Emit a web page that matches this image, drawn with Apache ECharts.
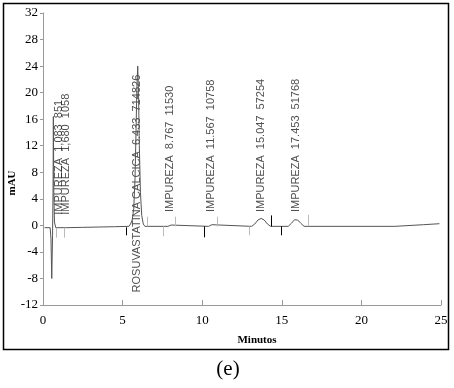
<!DOCTYPE html>
<html><head><meta charset="utf-8">
<script src="https://cdn.jsdelivr.net/npm/echarts@6/dist/echarts.min.js"></script>
<style>html,body{margin:0;padding:0;background:#fff}#c{width:454px;height:388px}</style>
</head><body><div id="c"></div>
<script>
// chromatogram trace: [minutes, mAU]
const traceTimes = [0.1,0.45,0.5,0.55,0.6,0.63,0.65,0.68,0.72,0.8,1.5,2.5,3.5,4.5,5.4,5.5,5.6,5.7,5.78,5.85,5.9,5.95,6.0,6.05,6.12,6.2,6.3,6.4,7.85,7.95,8.05,8.15,10.4,10.5,10.6,10.7,13.1,13.3,13.5,13.7,13.9,14.1,14.3,15.4,15.6,15.8,16.0,16.2,16.4,22.1,22.12,23.9,23.92,24.9];
const traceValues = [-0.35,-0.35,-2,-8,-1.5,5,16.4,5,0.5,-0.35,-0.35,-0.3,-0.25,-0.2,-0.15,0.2,0.8,2.5,7,15,21,24,20,12,5,1.5,0.2,-0.15,-0.15,0.05,0.05,-0.15,-0.15,0.1,0.1,-0.15,-0.15,0.2,0.8,1.05,0.8,0.2,-0.15,-0.15,0.3,0.85,0.8,0.3,-0.15,-0.15,0.1,0.1,0.25,0.25];

// peak labels
const labelTexts = ["IMPUREZA  1,083  851","IMPUREZA  1,680  1058","ROSUVASTATINA CALCICA  6.433  714826","IMPUREZA  8.767  11530","IMPUREZA  11.567  10758","IMPUREZA  15.047  57254","IMPUREZA  17.453  51768"];
const labelTimes = [1.0,1.42,5.93,7.95,10.52,13.72,15.92];
const labelBottoms = [1.6,1.6,-10.1,2.0,2.0,2.0,2.0];

// integration markers
const markerTimes = [0.82,1.32,5.21,6.53,7.54,8.29,10.11,10.93,12.94,14.32,14.95,16.65];
const markerFrom = [-0.35,-0.35,-0.3,-0.15,-0.15,-0.15,-0.15,-0.15,-0.15,-0.15,-0.15,-0.15];
const markerTo = [-1.85,-1.85,-1.5,1.3,-1.65,1.3,-1.8,1.3,-1.5,1.5,-1.5,1.6];
const markerDark = [false,false,true,false,false,false,true,false,false,true,true,false];

const yTicks = {min:-12,max:32,interval:4};
const xTicks = {min:0,max:25,interval:5};

const chart = echarts.init(document.getElementById('c'), null, {renderer:'canvas'});
const serif = "'Liberation Serif','Times New Roman',serif";
const sans = "'Liberation Sans',Arial,sans-serif";

chart.setOption({
  animation:false,
  backgroundColor:'#fff',
  grid:{left:43,right:13,top:13,bottom:83},
  xAxis:{type:'value',min:xTicks.min,max:xTicks.max,interval:xTicks.interval,
    axisLine:{show:true,onZero:false,lineStyle:{color:'#999',width:1}},
    axisTick:{show:true,inside:true,length:5,lineStyle:{color:'#999'}},
    splitLine:{show:false},
    axisLabel:{color:'#000',fontFamily:serif,fontSize:13,margin:9}},
  yAxis:{type:'value',min:yTicks.min,max:yTicks.max,interval:yTicks.interval,
    axisLine:{show:true,onZero:false,lineStyle:{color:'#999',width:1}},
    axisTick:{show:true,inside:false,length:3,lineStyle:{color:'#999'}},
    splitLine:{show:false},
    axisLabel:{color:'#000',fontFamily:serif,fontSize:13,margin:5}},
  series:[
    {type:'line',data:traceTimes.map((t,i)=>[t,traceValues[i]]),showSymbol:false,
     lineStyle:{color:'#555',width:1},
     markLine:{silent:true,symbol:['none','none'],label:{show:false},
       data:markerTimes.map((t,i)=>[
         {coord:[t,markerFrom[i]],lineStyle:{color:markerDark[i]?'#000':'#bbb',width:1,type:'solid'}},
         {coord:[t,markerTo[i]]}])}},
    {type:'scatter',symbolSize:0,silent:true,
     data:labelTimes.map((t,i)=>({value:[t,labelBottoms[i]],name:labelTexts[i]})),
     label:{show:true,position:[0,0],rotate:90,align:'left',verticalAlign:'middle',
       formatter:p=>p.name,color:'#222',fontFamily:sans,fontSize:11}}
  ],
  graphic:[
    {type:'rect',shape:{x:3.5,y:3.5,width:445,height:346},style:{fill:'none',stroke:'#000',lineWidth:1.5},silent:true},
    {type:'text',x:12,y:183,rotation:Math.PI/2,style:{text:'mAU',font:"bold 11px "+serif,fill:'#000',textAlign:'center',textVerticalAlign:'middle'}},
    {type:'text',x:257,y:340,style:{text:'Minutos',font:"bold 11px "+serif,fill:'#000',textAlign:'center',textVerticalAlign:'middle'}},
    {type:'text',x:228,y:369,style:{text:'(e)',font:"21px "+serif,fill:'#000',textAlign:'center',textVerticalAlign:'middle'}}
  ]
});
</script></body></html>
